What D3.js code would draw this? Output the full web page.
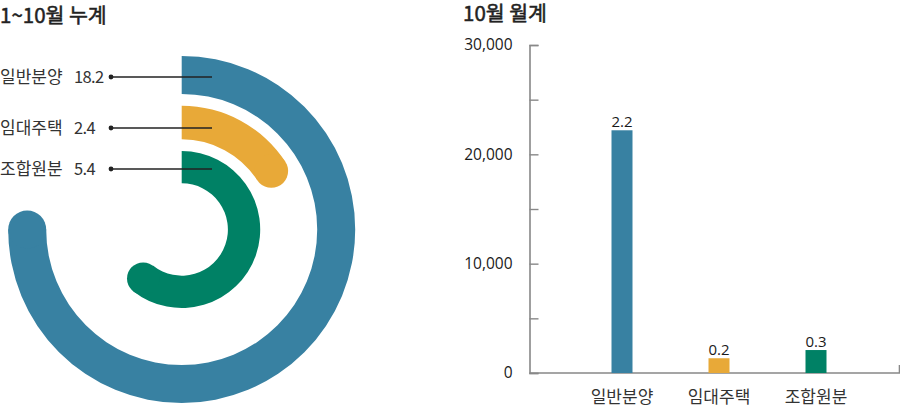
<!DOCTYPE html>
<html>
<head>
<meta charset="utf-8">
<script src="https://cdn.jsdelivr.net/npm/d3@7"></script>
<style>
  body { margin: 0; background: #fff; }
  svg { display: block; font-family: "Noto Sans CJK KR", "Noto Sans", sans-serif; }
  .num { font-family: "Open Sans", "Noto Sans", sans-serif; }
</style>
</head>
<body>
<div id="container"></div>
<script>
// data
var categories = ["일반분양", "임대주택", "조합원분"];
var ytdValues = [18.2, 2.4, 5.4];              // 1~10월 누계 (만 가구)
var ytdTurns = [0.75, 0.158, 0.606];           // share of a full turn each ring is filled
var octValues = [22200, 1350, 2100];           // 10월 월계
var octLabels = ["2.2", "0.2", "0.3"];
var yTicks = [0, 5000, 10000, 15000, 20000, 25000, 30000];
var colors = ["#3881a2", "#e8a938", "#008165"];

var width = 900, height = 407;

var svg = d3.select("#container")
    .append("svg")
        .attr("width", width)
        .attr("height", height);

// ---- left: radial bars ----
var cx = 181.7, cy = 229.5;
var rings = [[135.5, 173.5], [90.2, 123.8], [46.2, 78.5]];   // inner / outer radius per ring
var labelRows = [77, 128, 169];

var angle = d3.scaleLinear()
    .domain([0, 1])
    .range([0, 2 * Math.PI]);

svg.append("text")
    .attr("x", 0)
    .attr("y", 23)
    .text("1~10월 누계")
    .attr("font-size", "20.5px")
    .attr("fill", "#222")
    .attr("stroke", "#222")
    .attr("stroke-width", 0.5);

var radial = svg.append("g")
    .attr("transform", "translate(" + cx + "," + cy + ")");

var arc = d3.arc()
    .innerRadius(function(d, i){ return rings[i][0]; })
    .outerRadius(function(d, i){ return rings[i][1]; })
    .startAngle(0)
    .endAngle(function(d){ return angle(d); });

radial.selectAll("path.ring")
    .data(ytdTurns)
    .enter()
    .append("path")
        .attr("class", "ring")
        .attr("d", function(d, i){ return arc(d, i); })
        .attr("fill", function(d, i){ return colors[i]; });

// rounded end caps
radial.selectAll("circle.cap")
    .data(ytdTurns)
    .enter()
    .append("circle")
        .attr("class", "cap")
        .attr("cx", function(d, i){ return Math.sin(angle(d)) * (rings[i][0] + rings[i][1]) / 2; })
        .attr("cy", function(d, i){ return -Math.cos(angle(d)) * (rings[i][0] + rings[i][1]) / 2; })
        .attr("r", function(d, i){ return (rings[i][1] - rings[i][0]) / 2; })
        .attr("fill", function(d, i){ return colors[i]; });

// labels + leader lines
var labels = svg.selectAll("g.lbl")
    .data(categories)
    .enter()
    .append("g")
        .attr("class", "lbl")
        .attr("transform", function(d, i){ return "translate(0," + labelRows[i] + ")"; });

labels.append("text")
    .attr("x", 0)
    .attr("dy", "0.36em")
    .attr("font-size", "17px")
    .attr("fill", "#333")
    .text(function(d){ return d; });

labels.append("text")
    .attr("x", 74)
    .attr("dy", "0.36em")
    .attr("font-size", "16.5px")
    .attr("letter-spacing", "-0.6px")
    .attr("fill", "#333")
    .text(function(d, i){ return ytdValues[i]; });

labels.append("line")
    .attr("x1", 111)
    .attr("x2", 212)
    .attr("stroke", "#222")
    .attr("stroke-width", 1.4);

labels.append("circle")
    .attr("cx", 111)
    .attr("r", 2.4)
    .attr("fill", "#222");

// ---- right: bar chart ----
var x0 = 529.5, x1 = 899.5;
var y = d3.scaleLinear()
    .domain([0, 30000])
    .range([373, 45]);
var x = d3.scalePoint()
    .domain(categories)
    .range([622, 816]);
var barW = 21;

svg.append("text")
    .attr("x", 463)
    .attr("y", 21)
    .text("10월 월계")
    .attr("font-size", "20.5px")
    .attr("fill", "#222")
    .attr("stroke", "#222")
    .attr("stroke-width", 0.5);

var yAxis = d3.axisLeft(y)
    .tickValues(yTicks)
    .tickSize(-9)
    .tickPadding(17)
    .tickFormat(function(d){ return d % 10000 === 0 ? d3.format(",")(d) : ""; });

var gy = svg.append("g")
    .attr("transform", "translate(" + x0 + ",0)")
    .call(yAxis);
gy.select(".domain").attr("stroke", "#888").attr("stroke-width", 1.6);
gy.selectAll(".tick line").attr("stroke", "#888").attr("stroke-width", 1.4);
gy.selectAll(".tick text")
    .attr("class", "num")
    .attr("font-size", "15.5px")
    .attr("fill", "#1a1a1a");

// x baseline with end tick
svg.append("path")
    .attr("d", "M" + x0 + "," + y(0) + "H" + x1 + "V" + (y(0) - 8))
    .attr("fill", "none")
    .attr("stroke", "#888")
    .attr("stroke-width", 1.6);

svg.selectAll("rect.bar")
    .data(octValues)
    .enter()
    .append("rect")
        .attr("class", "bar")
        .attr("x", function(d, i){ return x(categories[i]) - barW / 2; })
        .attr("y", function(d){ return y(d); })
        .attr("width", barW)
        .attr("height", function(d){ return y(0) - y(d); })
        .attr("fill", function(d, i){ return colors[i]; });

svg.selectAll("text.val")
    .data(octValues)
    .enter()
    .append("text")
        .attr("class", "val num")
        .attr("x", function(d, i){ return x(categories[i]); })
        .attr("y", function(d){ return y(d) - 3; })
        .attr("text-anchor", "middle")
        .attr("font-size", "15px")
        .attr("fill", "#1a1a1a")
        .text(function(d, i){ return octLabels[i]; });

svg.selectAll("text.cat")
    .data(categories)
    .enter()
    .append("text")
        .attr("class", "cat")
        .attr("x", function(d){ return x(d); })
        .attr("y", 403)
        .attr("text-anchor", "middle")
        .attr("font-size", "17px")
        .attr("fill", "#333")
        .text(function(d){ return d; });
</script>
</body>
</html>
